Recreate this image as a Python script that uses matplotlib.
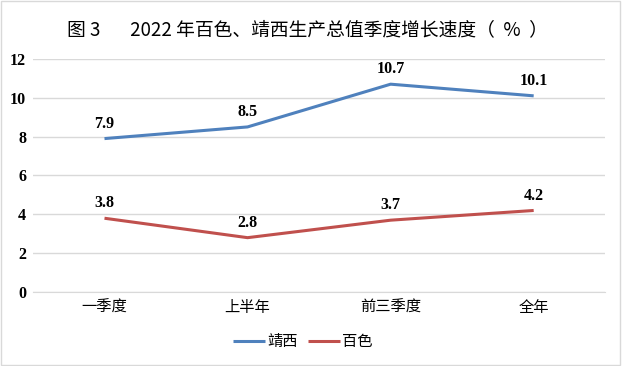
import numpy as np
import matplotlib.pyplot as plt
from matplotlib.patches import Rectangle

plt.rcParams['font.family'] = ['Noto Sans CJK SC', 'DejaVu Sans']

categories = ['一季度', '上半年', '前三季度', '全年']
jingxi = [7.9, 8.5, 10.7, 10.1]
baise = [3.8, 2.8, 3.7, 4.2]
yticks = [0, 2, 4, 6, 8, 10, 12]

fig = plt.figure(figsize=(6.22, 3.66), dpi=100)
ax = fig.add_axes([0.053, 0.202, 0.92, 0.637])

x = np.arange(len(categories))
ax.plot(x, jingxi, color='#4F81BD', lw=2.2, label='靖西', solid_capstyle='butt')
ax.plot(x, baise, color='#C0504D', lw=2.2, label='百色', solid_capstyle='butt')

for xi, v in zip(x, jingxi):
    ax.annotate(f'{v:.1f}', (xi, v), xytext=(0, 5), textcoords='offset points',
                ha='center', va='bottom', fontsize=11.5, fontweight='bold',
                family='Liberation Serif')
for xi, v in zip(x, baise):
    ax.annotate(f'{v:.1f}', (xi, v), xytext=(0, 5), textcoords='offset points',
                ha='center', va='bottom', fontsize=11.5, fontweight='bold',
                family='Liberation Serif')

ax.set_xlim(-0.5, 3.5)
ax.set_ylim(0, 12)
ax.set_yticks(yticks)
ax.set_yticklabels([str(t) for t in yticks], fontsize=11.5, fontweight='bold',
                   family='Liberation Serif')
ax.set_xticks(x)
ax.set_xticklabels(categories, fontsize=11)
ax.grid(axis='y', color='#D9D9D9', lw=1)
ax.set_axisbelow(True)
for s in ['top', 'right', 'left']:
    ax.spines[s].set_visible(False)
ax.spines['bottom'].set_color('#D9D9D9')
ax.tick_params(length=0, pad=5)

fig.text(307 / 622, 0.918, '图 3       2022 年百色、靖西生产总值季度增长速度（  %  ）',
         ha='center', va='center', fontsize=13.5)

fig.legend(loc='center', bbox_to_anchor=(303 / 622, 0.066), ncol=2, frameon=False,
           fontsize=11, handlelength=2.1, columnspacing=0.65, handletextpad=0.15)

fig.patches.append(Rectangle((0.002, 0.003), 0.995, 0.994, transform=fig.transFigure,
                             fill=False, edgecolor='#D9D9D9', lw=1))

fig.savefig('out.png', dpi=100)
